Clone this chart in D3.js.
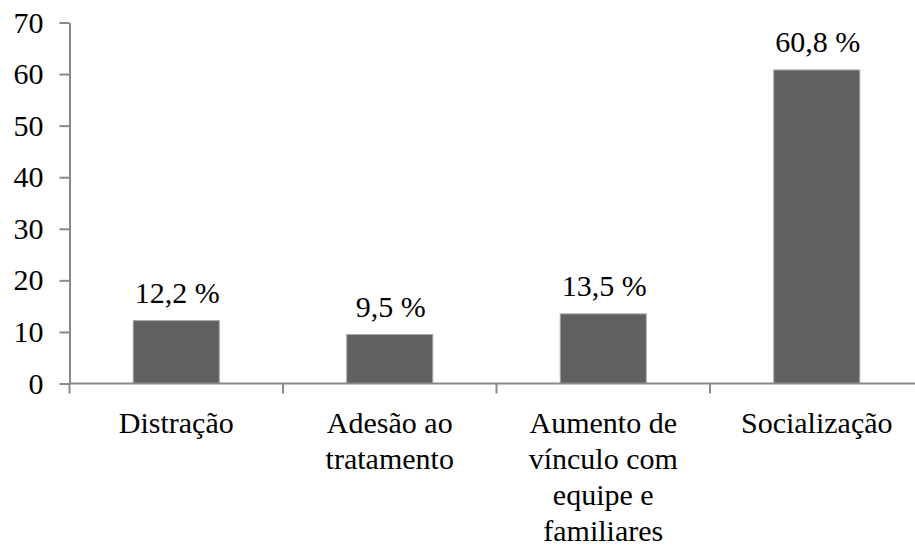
<!DOCTYPE html>
<html>
<head>
<meta charset="utf-8">
<script src="https://cdn.jsdelivr.net/npm/d3@7"></script>
<style>
  body { margin: 0; background: #fff; }
</style>
</head>
<body>
<div class="chart"></div>
<script>
const w = 915;
const h = 546;
const font = "'Liberation Serif', 'Times New Roman', Times, 'DejaVu Serif', serif";

const categories = [
  'Distração',
  'Adesão ao\ntratamento',
  'Aumento de\nvínculo com\nequipe e\nfamiliares',
  'Socialização'
];
const values = [12.2, 9.5, 13.5, 60.8];
const valueLabels = ['12,2 %', '9,5 %', '13,5 %', '60,8 %'];
const yTicks = [0, 10, 20, 30, 40, 50, 60, 70];

const axisColor = '#898989';

const svg = d3
  .select('.chart')
  .append('svg')
  .attr('width', w)
  .attr('height', h)
  .style('font-family', font);

// xScale: bars take ~40% of each category slot
const xScale = d3
  .scaleBand()
  .domain(categories)
  .range([69.5, 923.5])
  .paddingInner(0.597)
  .paddingOuter(0.2985);

// yScale
const yScale = d3
  .scaleLinear()
  .domain([0, 70])
  .range([383.5, 22.5]);

// Bars
svg
  .selectAll('rect.bar')
  .data(values)
  .enter()
  .append('rect')
  .attr('class', 'bar')
  .attr('x', (d, i) => xScale(categories[i]))
  .attr('y', (d) => yScale(d))
  .attr('width', xScale.bandwidth())
  .attr('height', (d) => yScale(0) - yScale(d))
  .attr('fill', '#606060')
  .attr('stroke', '#a6a6a6')
  .attr('stroke-width', 1);

// Value labels
svg
  .selectAll('text.value')
  .data(values)
  .enter()
  .append('text')
  .attr('class', 'value')
  .attr('x', (d, i) => xScale(categories[i]) + xScale.bandwidth() / 2 + 1)
  .attr('y', (d) => yScale(d) - 18)
  .attr('text-anchor', 'middle')
  .style('font-family', font)
  .style('font-size', '30px')
  .text((d, i) => valueLabels[i]);

// Left axis
const yAxis = d3
  .axisLeft(yScale)
  .tickValues(yTicks)
  .tickSize(10)
  .tickSizeOuter(0)
  .tickPadding(16);

const gy = svg
  .append('g')
  .attr('transform', 'translate(69.5,0)')
  .attr('id', 'y-axis')
  .call(yAxis);
gy.selectAll('path, line').attr('stroke', axisColor).attr('stroke-width', 2);
gy.selectAll('text')
  .style('font-family', font)
  .style('font-size', '30px')
  .attr('fill', '#000');

// Bottom axis: line plus ticks at the category boundaries
const step = xScale.step();
const boundaries = categories.map((c) => xScale(c) - (step - xScale.bandwidth()) / 2);
boundaries.push(boundaries[boundaries.length - 1] + step);

const gx = svg.append('g').attr('id', 'x-axis');
gx.append('line')
  .attr('x1', 69.5)
  .attr('x2', w)
  .attr('y1', yScale(0))
  .attr('y2', yScale(0))
  .attr('stroke', axisColor)
  .attr('stroke-width', 2);
gx.selectAll('line.tick')
  .data(boundaries)
  .enter()
  .append('line')
  .attr('class', 'tick')
  .attr('x1', (d) => d)
  .attr('x2', (d) => d)
  .attr('y1', yScale(0))
  .attr('y2', yScale(0) + 10)
  .attr('stroke', axisColor)
  .attr('stroke-width', 2);

// Category labels, one tspan per line
const lbl = gx
  .selectAll('text.cat')
  .data(categories)
  .enter()
  .append('text')
  .attr('class', 'cat')
  .attr('text-anchor', 'middle')
  .attr('x', (d) => xScale(d) + xScale.bandwidth() / 2)
  .attr('y', yScale(0) + 49)
  .style('font-family', font)
  .style('font-size', '30px');

lbl.each(function (d) {
  const t = d3.select(this);
  d.split('\n').forEach((line, i) => {
    t.append('tspan')
      .attr('x', xScale(d) + xScale.bandwidth() / 2)
      .attr('dy', i === 0 ? 0 : 36)
      .text(line);
  });
});
</script>
</body>
</html>
